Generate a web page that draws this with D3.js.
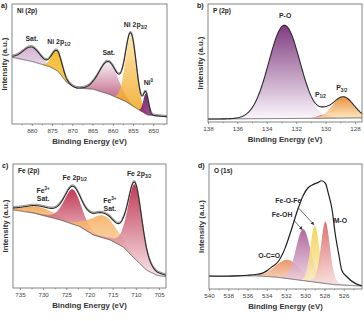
<!DOCTYPE html>
<html>
<head>
<meta charset="utf-8">
<script src="https://cdn.jsdelivr.net/npm/d3@7"></script>
<style>
  body { margin: 0; background: #fff; }
  svg text { font-family: "Liberation Sans", Arial, sans-serif; }
</style>
</head>
<body>
<svg id="chart" width="364" height="321"></svg>
<script>
const d3 = window.d3;

// ---- Ni 2p ----
const niTicks = [880, 875, 870, 865, 860, 855, 850];
const niMinor = [882.5, 877.5, 872.5, 867.5, 862.5, 857.5, 852.5, 847.5];
// background: [binding energy, intensity]
const niBackground = [[884.9, 55.6], [879.8, 52], [875.6, 47.7], [873.5, 44], [871.5, 35], [870, 31.5],
  [869, 30], [864.9, 29], [860.8, 24.7], [856.7, 18.6], [853.5, 11.7], [851.4, 7.5], [846.6, 6]];
// components: [centre eV, height, fwhm, lorentzian fraction]
const niPeaks = [[880, 12, 5, 0], [873.8, 16.5, 3, 0], [861, 27, 5.5, 0], [855.5, 58, 3.2, 0], [851.8, 17, 1.5, 0]];
// labels: [text, script, eV, intensity]
const niLabels = [["Sat.", "", 880, 69], ["Ni 2p", "_1/2", 873.3, 66.5], ["Sat.", "", 861, 57.5],
  ["Ni 2p", "_3/2", 854.4, 80.5], ["Ni", "^0", 851.2, 32.5]];

// ---- P 2p ----
const pTicks = [138, 136, 134, 132, 130, 128];
const pMinor = [137, 135, 133, 131, 129];
const pBackground = [[138, 2.5], [135, 2.8], [132, 3.0], [130, 3.2], [127.5, 3.5]];
const pPeaks = [[132.8, 79, 2.5, 0], [130.1, 3, 1.0, 0], [128.8, 18, 1.7, 0]];
const pLabels = [["P-O", "", 132.75, 88], ["P", "_1/2", 130.35, 21.5], ["P", "_3/2", 128.9, 27]];

// ---- Fe 2p ----
const feTicks = [735, 730, 725, 720, 715, 710, 705];
const feMinor = [732.5, 727.5, 722.5, 717.5, 712.5, 707.5];
const feBackground = [[736.5, 63], [732.1, 60.5], [726.4, 55], [722.1, 49.6], [719.2, 42.8], [715.6, 38.8],
  [712.7, 33], [710.6, 25], [707.7, 14.4], [705.5, 10.3], [703.5, 9]];
const fePeaks = [[730.5, 6, 8, 0], [723.6, 28, 4.4, 0.3], [717, 18, 7, 0], [710.2, 60, 3.6, 0.3]];
const feLabels = [["Fe", "^3+", 730, 77], ["Sat.", "", 730, 70.5], ["Fe 2p", "_1/2", 723.2, 87.5],
  ["Fe", "^3+", 715.6, 68.5], ["Sat.", "", 715.6, 62], ["Fe 2p", "_3/2", 709.3, 90]];

// ---- O 1s ----
const oTicks = [540, 538, 536, 534, 532, 530, 528, 526];
const oMinor = [539, 537, 535, 533, 531, 529, 527, 525];
const oBackground = [[540, 10.4], [537, 10.5], [535, 10.5], [533, 9.5], [531, 7.5], [529, 5.5], [527, 3.5], [524.1, 2.4]];
const oSpectrum = [[540, 10.4], [539, 10.2], [538, 10.2], [537, 10.5], [536, 11], [535, 11.8], [534.5, 12.5],
  [534, 14.5], [533.5, 17.5], [532.8, 22], [532.1, 32.5], [531.5, 46], [530.8, 63], [530.2, 75], [529.7, 81],
  [529.2, 83.5], [528.6, 85.5], [528.3, 86.6], [527.9, 84.5], [527.6, 76.5], [527.2, 63], [526.9, 45],
  [526.5, 27], [526.2, 15], [525.7, 10], [524.8, 4.5], [524.1, 2.4]];
const oPeaks = [[531.8, 15, 3.0, 0], [530.2, 41, 1.8, 0], [529.0, 45, 1.1, 0], [527.9, 49.5, 1.1, 0.2]];
const oLabels = [["O-C=O", "", 533.75, 25], ["Fe-OH", "", 532.4, 57.5], ["Fe-O-Fe", "", 531.75, 68.5], ["M-O", "", 526.35, 52.5]];
// arrows: [from eV, from intensity, to eV, to intensity]
const oArrows = [[530.66, 64.6, 529.1, 51.5], [531.2, 55.2, 530.3, 47.5]];

const panels = [
  { id: "a", title: "Ni (2p)", box: [12, 167, 4, 124], domain: [884.9, 846.6], ticks: niTicks, minor: niMinor,
    bg: niBackground, peaks: niPeaks, labels: niLabels, raw: true,
    fills: [["#cda3ca", "#e8d7e7"], ["#f3b111", "#f6c244"], ["#f6ecf4", "#a82a55"], ["#fde3a0", "#f0a31a"], ["#560d5a", "#8e2a80"]] },
  { id: "b", title: "P (2p)", box: [208, 362, 4, 122], domain: [138, 127.52], ticks: pTicks, minor: pMinor,
    bg: pBackground, peaks: pPeaks, labels: pLabels,
    fills: [["#6a1a6a", "#fbf5fb"], ["#c42a44", "#f2b0bb"], ["#e8801c", "#fde3b8"]] },
  { id: "c", title: "Fe (2p)", box: [13, 166, 164, 288], domain: [736.5, 703.5], ticks: feTicks, minor: feMinor,
    bg: feBackground, peaks: fePeaks, labels: feLabels, raw: true,
    fills: [["#f0a048", "#fbd9a8"], ["#b51a3a", "#f3c9cf"], ["#f6ac5a", "#fde4c4"], ["#b51a3a", "#f9e1e4"]] },
  { id: "d", title: "O (1s)", box: [209, 362, 164, 289], domain: [540, 524.1], ticks: oTicks, minor: oMinor,
    bg: oBackground, peaks: oPeaks, labels: oLabels, spectrum: oSpectrum, arrows: oArrows,
    fills: [["#e8844e", "#f9d7c0"], ["#a2508f", "#f0d6e4"], ["#f1cf3c", "#fbf0c4"], ["#d65858", "#f8dcdc"]] }
];

const svg = d3.select("#chart");
const defs = svg.append("defs");

defs.append("marker")
  .attr("id", "arrowhead")
  .attr("viewBox", "0 0 10 10")
  .attr("refX", 9).attr("refY", 5)
  .attr("markerWidth", 5).attr("markerHeight", 5)
  .attr("orient", "auto")
  .append("path").attr("d", "M0,0 L10,5 L0,10 z").attr("fill", "#333");

// pseudo-Voigt line shape
function peakValue(e, p) {
  const [c, h, w, eta] = p;
  const u = 4 * (e - c) * (e - c) / (w * w);
  return h * ((1 - eta) * Math.exp(-Math.LN2 * u) + eta / (1 + u));
}

function addLabel(g, x, y, lab) {
  const [txt, script, e, v] = lab;
  const t = g.append("text")
    .attr("x", x(e)).attr("y", y(v))
    .attr("text-anchor", "middle")
    .attr("font-size", 6.9).attr("font-weight", "bold").attr("fill", "#2a2a2a")
    .text(txt);
  if (script) {
    const sub = script[0] === "_";
    t.append("tspan")
      .attr("font-size", 4.6)
      .attr("dy", sub ? 1.6 : -2.6)
      .text(script.slice(1));
  }
}

panels.forEach(function (p) {
  const [x0, x1, y0, y1] = p.box;
  const x = d3.scaleLinear().domain(p.domain).range([x0, x1]);
  const y = d3.scaleLinear().domain([0, 100]).range([y1, y0]);
  const g = svg.append("g");

  defs.append("clipPath").attr("id", "clip-" + p.id)
    .append("rect").attr("x", x0).attr("y", y0).attr("width", x1 - x0).attr("height", y1 - y0);

  const bgSorted = p.bg.slice().sort((a, b) => a[0] - b[0]);
  const bgAt = d3.scaleLinear().domain(bgSorted.map(d => d[0])).range(bgSorted.map(d => d[1])).clamp(true);

  const lo = Math.min(...p.domain), hi = Math.max(...p.domain);
  const grid = d3.range(lo, hi, 0.04).concat([hi]);

  const plot = g.append("g").attr("clip-path", "url(#clip-" + p.id + ")");

  // fitted components sitting on the background
  p.peaks.forEach(function (pk, i) {
    const pts = grid.filter(e => peakValue(e, pk) > 0.4);
    const gid = "grad-" + p.id + i;
    const grad = defs.append("linearGradient").attr("id", gid)
      .attr("x1", 0).attr("y1", 0).attr("x2", 0).attr("y2", 1);
    grad.append("stop").attr("offset", 0).attr("stop-color", p.fills[i][0]);
    grad.append("stop").attr("offset", 1).attr("stop-color", p.fills[i][1]);
    const area = d3.area()
      .x(e => x(e))
      .y0(e => y(bgAt(e)))
      .y1(e => y(bgAt(e) + peakValue(e, pk)));
    plot.append("path").datum(pts)
      .attr("d", area)
      .attr("fill", "url(#" + gid + ")")
      .attr("fill-opacity", 0.85);
  });

  // background line
  plot.append("path").datum(grid)
    .attr("d", d3.line().x(e => x(e)).y(e => y(bgAt(e))))
    .attr("fill", "none").attr("stroke", "#4a4a4a").attr("stroke-width", 0.8);

  // envelope
  if (p.spectrum) {
    plot.append("path").datum(p.spectrum)
      .attr("d", d3.line().x(d => x(d[0])).y(d => y(d[1])).curve(d3.curveMonotoneX))
      .attr("fill", "none").attr("stroke", "#1e1e1e").attr("stroke-width", 1.2);
  } else {
    const total = grid.map(e => [e, bgAt(e) + d3.sum(p.peaks, pk => peakValue(e, pk))]);
    const env = d3.line().x(d => x(d[0])).y(d => y(d[1]));
    if (p.raw) {
      plot.append("path").datum(total)
        .attr("d", env)
        .attr("transform", "translate(0,-1.3)")
        .attr("fill", "none").attr("stroke", "#9a9a9a").attr("stroke-width", 1.1);
    }
    plot.append("path").datum(total)
      .attr("d", env)
      .attr("fill", "none").attr("stroke", "#2b2b2b").attr("stroke-width", 1.1);
  }

  // frame
  g.append("rect")
    .attr("x", x0).attr("y", y0).attr("width", x1 - x0).attr("height", y1 - y0)
    .attr("fill", "none").attr("stroke", "#666").attr("stroke-width", 0.8);

  // x axis
  const ax = g.append("g").attr("transform", "translate(0," + y1 + ")")
    .call(d3.axisBottom(x).tickValues(p.ticks).tickSize(2).tickPadding(3).tickFormat(d3.format("d")));
  ax.select(".domain").remove();
  ax.selectAll("line").attr("stroke", "#666").attr("stroke-width", 0.7);
  ax.selectAll("text").attr("font-size", 6.2).attr("fill", "#444").attr("font-family", null);

  const mx = g.append("g").attr("transform", "translate(0," + y1 + ")")
    .call(d3.axisBottom(x).tickValues(p.minor.filter(v => v <= hi && v >= lo)).tickSize(1.3).tickFormat(""));
  mx.select(".domain").remove();
  mx.selectAll("line").attr("stroke", "#666").attr("stroke-width", 0.6);

  g.append("text")
    .attr("x", (x0 + x1) / 2).attr("y", y1 + 20)
    .attr("text-anchor", "middle")
    .attr("font-size", 7.8).attr("font-weight", "bold").attr("fill", "#333")
    .text("Binding Energy (eV)");

  g.append("text")
    .attr("transform", "translate(" + (x0 - 5.5) + "," + ((y0 + y1) / 2) + ") rotate(-90)")
    .attr("text-anchor", "middle")
    .attr("font-size", 7.8).attr("font-weight", "bold").attr("fill", "#333")
    .text("Intensity (a.u.)");

  // panel letter and core level
  g.append("text")
    .attr("x", x0 - 11).attr("y", y0 + 4)
    .attr("font-size", 7).attr("font-weight", "bold").attr("fill", "#222")
    .text(p.id + ")");
  g.append("text")
    .attr("x", x0 + 5).attr("y", y0 + 9)
    .attr("font-size", 6.5).attr("font-weight", "bold").attr("fill", "#222")
    .text(p.title);

  p.labels.forEach(lab => addLabel(g, x, y, lab));

  (p.arrows || []).forEach(function (a) {
    g.append("line")
      .attr("x1", x(a[0])).attr("y1", y(a[1]))
      .attr("x2", x(a[2])).attr("y2", y(a[3]))
      .attr("stroke", "#333").attr("stroke-width", 0.7)
      .attr("marker-end", "url(#arrowhead)");
  });
});
</script>
</body>
</html>
